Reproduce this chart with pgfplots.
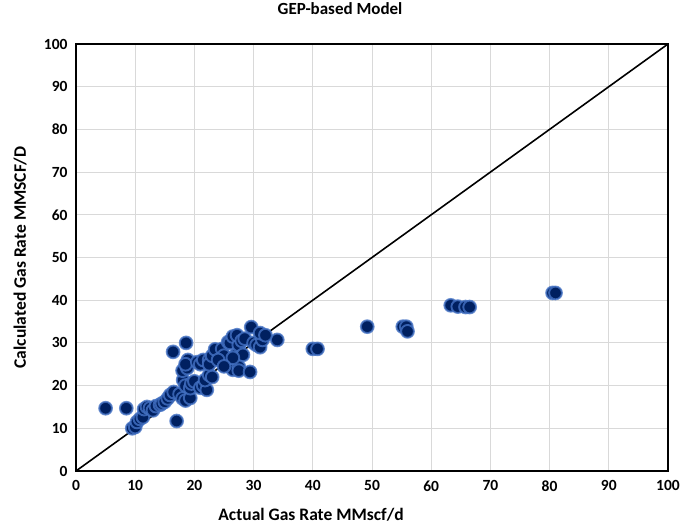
\documentclass[border=0pt]{standalone}
\usepackage{pgfplots}
\pgfplotsset{compat=1.18}
\usepackage{fontspec}
\setmainfont{Carlito}
\definecolor{navy}{RGB}{0,32,96}
\definecolor{ringblue}{RGB}{68,114,196}
\definecolor{gridgray}{RGB}{217,217,217}
\begin{document}
\begin{tikzpicture}
\useasboundingbox (-76pt,-56pt) rectangle (607pt,471pt);
\begin{axis}[
  at={(0,0)}, anchor=south west,
  scale only axis, width=592pt, height=427pt,
  xmin=0, xmax=100, ymin=0, ymax=100,
  xtick={0,10,...,100}, ytick={0,10,...,100},
  grid=major, major grid style={gridgray, line width=0.8pt},
  major tick length=0pt,
  axis line style={black, line width=1.2pt},
  /pgf/number format/assume math mode=true,
  ticklabel style={font=\fontsize{15.5}{17}\selectfont\bfseries},
  xticklabel style={yshift=-6pt},
  yticklabel style={xshift=-5pt},
  title={GEP-based Model},
  title style={font=\fontsize{17}{19}\selectfont\bfseries, at={(axis description cs:0.446,1)}, anchor=base, yshift=23pt},
  xlabel={Actual Gas Rate MMscf/d},
  ylabel={Calculated Gas Rate MMSCF/D},
  label style={font=\fontsize{17.5}{20}\selectfont\bfseries},
  xlabel style={at={(axis description cs:0.397,0)}, anchor=base, yshift=-50pt},
  ylabel style={at={(axis description cs:0,0.5)}, anchor=base, rotate=0, yshift=50pt},
  clip=false,
]
\addplot[black, line width=1.6pt] coordinates {(0,0) (100,100)};
\addplot[only marks, mark=*, mark size=6.4pt,
  mark options={fill=navy, draw=ringblue, draw opacity=0.8, line width=1.9pt}]
coordinates {
(5,14.7) (8.5,14.7)
(9.5,10) (10,10.3) (10.3,11.5) (10.8,12.2) (11.3,12.6) (11.5,14.5) (12,15) (12.5,14.7)
(13,14.2) (13.5,15.2) (14.2,15.5) (14.5,15.8) (15,16.2) (15.5,17) (15.9,17.8) (16.5,18.5)
(17,11.7) (16.4,27.9) (18.6,30)
(17.5,18) (18,17) (18.5,16.5) (19.3,17.1) (18.1,21.3) (18.5,20) (19.3,19.4) (19.5,20.5) (20,21)
(21,19.5) (21.5,20) (22.1,19) (21.8,21.3) (22.5,22.5) (23,22)
(18,23.5) (18.8,24.1) (18.9,26) (18.5,25) (20.5,25.5) (21,25) (21.5,26) (22.5,26) (22.5,25)
(23,27) (23.5,28.5) (24.7,28.6) (25,27) (25.7,30.2) (26,30) (26.5,31.5) (27,27.2) (27.5,29.5)
(27.2,31.8) (28,30.5) (28.5,31) (29.6,33.7) (30,30) (28.2,27.2)
(26.5,23.7) (27.5,24.4) (27.5,23.5) (29.4,23.2)
(30.5,29.5) (31.1,29) (31.5,30.7) (31.1,32.3) (34,30.7) (32,31.8) (26.5,26.5) (24,26) (25,24.5)
(40,28.6) (40.8,28.6)
(49.2,33.8)
(55.2,33.8) (55.8,33.8) (56,32.7)
(63.3,38.8) (64.5,38.5) (65.8,38.4) (66.5,38.4)
(80.5,41.7) (81,41.7)
};
\end{axis}
\end{tikzpicture}
\end{document}
